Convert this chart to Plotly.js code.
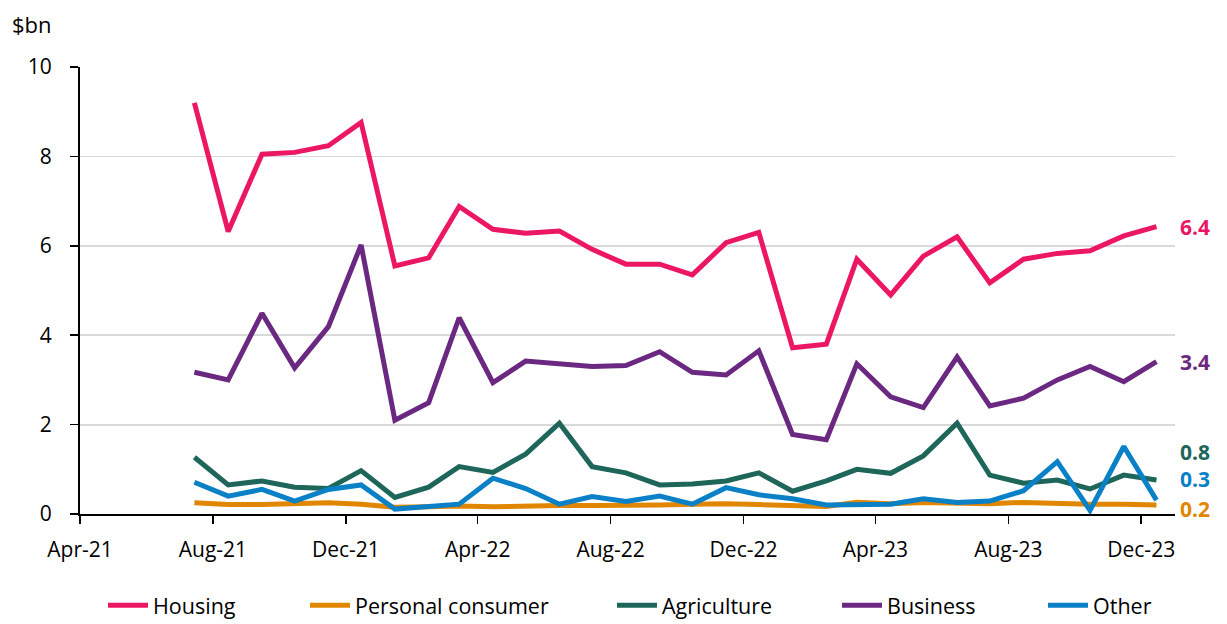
<!DOCTYPE html>
<html>
<head>
<meta charset="utf-8">
<script src="https://cdn.plot.ly/plotly-3.0.1.min.js"></script>
<style>html,body{margin:0;padding:0;background:#fff;}#chart{width:1227px;height:624px;}</style>
</head>
<body>
<div id="chart"></div>
<script>
// Months (plotted at mid-month)
const months = [
  '2021-07-15','2021-08-15','2021-09-15','2021-10-15','2021-11-15','2021-12-15',
  '2022-01-15','2022-02-15','2022-03-15','2022-04-15','2022-05-15','2022-06-15',
  '2022-07-15','2022-08-15','2022-09-15','2022-10-15','2022-11-15','2022-12-15',
  '2023-01-15','2023-02-15','2023-03-15','2023-04-15','2023-05-15','2023-06-15',
  '2023-07-15','2023-08-15','2023-09-15','2023-10-15','2023-11-15','2023-12-15'
];

const housing = [9.20,6.32,8.05,8.09,8.24,8.76,5.55,5.73,6.88,6.37,6.28,6.33,5.92,5.59,5.59,5.35,6.07,6.30,3.72,3.80,5.70,4.90,5.77,6.20,5.17,5.70,5.83,5.89,6.22,6.43];
const personal = [0.25,0.21,0.21,0.22,0.25,0.22,0.15,0.16,0.18,0.16,0.18,0.19,0.19,0.19,0.20,0.22,0.23,0.21,0.18,0.17,0.26,0.23,0.26,0.25,0.23,0.26,0.23,0.22,0.22,0.20];
const agriculture = [1.27,0.65,0.74,0.60,0.57,0.97,0.37,0.60,1.06,0.93,1.34,2.03,1.06,0.92,0.65,0.67,0.74,0.92,0.51,0.74,1.00,0.91,1.30,2.03,0.87,0.69,0.76,0.56,0.87,0.76];
const business = [3.17,3.00,4.49,3.27,4.19,6.02,2.10,2.49,4.39,2.94,3.42,3.37,3.30,3.32,3.63,3.17,3.11,3.65,1.78,1.66,3.36,2.62,2.38,3.51,2.42,2.59,3.00,3.30,2.96,3.41];
const other = [0.71,0.40,0.55,0.29,0.55,0.65,0.11,0.18,0.22,0.80,0.57,0.22,0.39,0.28,0.40,0.22,0.59,0.43,0.34,0.20,0.22,0.22,0.34,0.26,0.29,0.52,1.17,0.08,1.51,0.31];

const tickDates = ['2021-04-01','2021-08-01','2021-12-01','2022-04-01','2022-08-01','2022-12-01','2023-04-01','2023-08-01','2023-12-01'];
const tickLabels = ['Apr-21','Aug-21','Dec-21','Apr-22','Aug-22','Dec-22','Apr-23','Aug-23','Dec-23'];

const seriesNames = ['Housing','Personal consumer','Agriculture','Business','Other'];
const seriesData = [housing, personal, agriculture, business, other];
const colors = ['#EC1763','#E08600','#1D6659','#6A2880','#0A80C6'];
const labelShift = [0, -4, 28, 0, 21];            // vertical nudge (px) of end labels to avoid overlap
const legendLeft = [103, 305, 612, 837, 1043];    // legend entry left edges (px)

const FONT = 'Open Sans, Noto Sans, sans-serif';
const legendIds = ['legend','legend2','legend3','legend4','legend5'];

const traces = seriesNames.map((n, i) => ({
  type: 'scatter', mode: 'lines', name: n,
  x: months, y: seriesData[i],
  line: {color: colors[i], width: 5, shape: 'linear'},
  legend: legendIds[i],
  hoverinfo: 'skip'
}));

const annotations = seriesNames.map((n, i) => ({
  x: months[months.length - 1],
  y: seriesData[i][seriesData[i].length - 1],
  xref: 'x', yref: 'y',
  text: '<b>' + seriesData[i][seriesData[i].length - 1].toFixed(1) + '</b>',
  showarrow: false, xanchor: 'left', yanchor: 'middle',
  xshift: 23, yshift: labelShift[i], height: 24, borderpad: 0,
  font: {family: FONT, size: 21, color: colors[i]}
}));
annotations.push({
  text: '$bn', xref: 'paper', yref: 'paper', x: 0, y: 1, xanchor: 'left', yanchor: 'bottom',
  xshift: -70, yshift: 26, showarrow: false,
  font: {family: FONT, size: 22, color: '#000'}
});

const layout = {
  width: 1227, height: 624,
  margin: {l: 80, r: 52, t: 67, b: 110},
  paper_bgcolor: '#fff', plot_bgcolor: '#fff',
  font: {family: FONT, size: 21, color: '#000'},
  showlegend: true,
  xaxis: {
    type: 'date', range: ['2021-04-01', '2024-01-01'],
    tickvals: tickDates, ticktext: tickLabels,
    showgrid: false, zeroline: false, automargin: false,
    showline: true, linecolor: '#000', linewidth: 2,
    ticks: 'outside', ticklen: 8, tickwidth: 1.5, tickcolor: '#000',
    ticklabelstandoff: 8,
    tickfont: {family: FONT, size: 21, color: '#000'}
  },
  yaxis: {
    range: [0, 10], dtick: 2, tick0: 0,
    showgrid: true, gridcolor: '#d9d9d9', gridwidth: 1.8,
    zeroline: false, automargin: false,
    showline: true, linecolor: '#000', linewidth: 2,
    ticks: 'outside', ticklen: 8, tickwidth: 1.5, tickcolor: '#000',
    ticklabelstandoff: 14,
    tickfont: {family: FONT, size: 21, color: '#000'}
  },
  annotations: annotations
};
legendIds.forEach((id, i) => {
  layout[id] = {
    orientation: 'h', xref: 'container', yref: 'container',
    x: legendLeft[i] / 1227, xanchor: 'left', y: 0.03, yanchor: 'middle',
    font: {family: FONT, size: 21.5, color: '#000'}, itemwidth: 40,
    bgcolor: 'rgba(0,0,0,0)', borderwidth: 0
  };
});

Plotly.newPlot('chart', traces, layout, {displayModeBar: false, staticPlot: true});
</script>
</body>
</html>
